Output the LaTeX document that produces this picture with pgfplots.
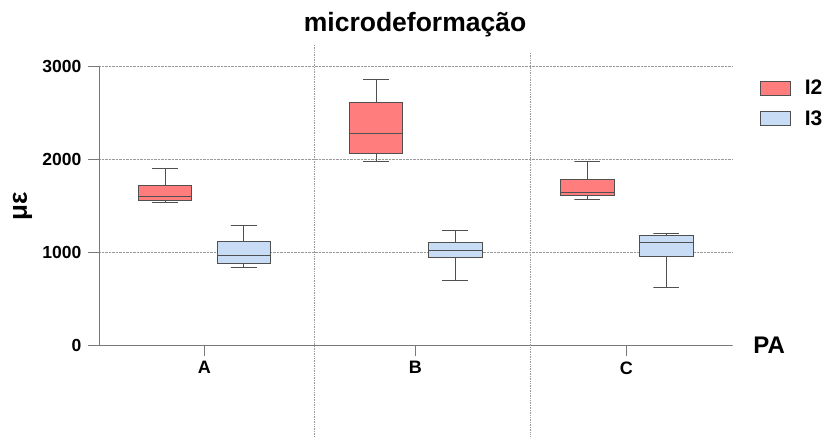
\documentclass[border=0pt]{standalone}
\usepackage{fontspec}
\setmainfont{Liberation Sans}
\usepackage{pgfplots}
\pgfplotsset{compat=1.18}
\definecolor{myred}{RGB}{255,125,125}
\definecolor{myblue}{RGB}{200,220,246}
\definecolor{edge}{RGB}{80,80,80}
\definecolor{axgray}{RGB}{120,120,120}
\begin{document}
\begin{tikzpicture}
\begin{axis}[
  scale only axis,
  width=633pt, height=279pt,
  xmin=-0.5, xmax=2.5, ymin=0, ymax=3000,
  clip=false,
  axis x line=bottom, axis y line=left,
  axis line style={-, axgray, line width=0.8pt},
  tick align=outside, tick pos=left,
  major tick length=11pt,
  tick style={axgray, line width=0.8pt},
  xtick={0,1,2}, xticklabels={A,B,C},
  ytick={0,1000,2000,3000},
  yticklabels={0,1000,2000,3000},
  xticklabel style={font=\bfseries\fontsize{18}{18}\selectfont, yshift=-2pt},
  yticklabel style={font=\bfseries\fontsize{17.5}{17.5}\selectfont, xshift=-3pt},
  ymajorgrids,
  major grid style={densely dotted, gray!80, line width=0.7pt},
  seg/.style={draw=edge, line width=0.9pt, forget plot, mark=none},
  legend style={at={(1.0443,0.957)}, anchor=north west, draw=none, fill=none,
    font=\bfseries\fontsize{21}{21}\selectfont, row sep=10pt, inner sep=0pt},
  legend cell align=left,
]
% separators
\addplot[densely dotted, gray!80, line width=0.7pt, forget plot] coordinates {(0.519,3226) (0.519,-989)};
\addplot[densely dotted, gray!80, line width=0.7pt, forget plot] coordinates {(1.546,3140) (1.546,-989)};
% Red A
\addplot[seg, fill=myred] coordinates {(-0.314,1556) (-0.060,1556) (-0.060,1720) (-0.314,1720)} -- cycle;
\addplot[seg] coordinates {(-0.314,1602) (-0.060,1602)};
\addplot[seg] coordinates {(-0.187,1720) (-0.187,1900) (-0.2485,1900) (-0.1255,1900)};
\addplot[seg] coordinates {(-0.187,1556) (-0.187,1534) (-0.2485,1534) (-0.1255,1534)};
% Blue A
\addplot[seg, fill=myblue] coordinates {(0.060,882) (0.314,882) (0.314,1111) (0.060,1111)} -- cycle;
\addplot[seg] coordinates {(0.060,960) (0.314,960)};
\addplot[seg] coordinates {(0.187,1111) (0.187,1283) (0.1255,1283) (0.2485,1283)};
\addplot[seg] coordinates {(0.187,882) (0.187,839) (0.1255,839) (0.2485,839)};
% Red B
\addplot[seg, fill=myred] coordinates {(0.686,2061) (0.940,2061) (0.940,2606) (0.686,2606)} -- cycle;
\addplot[seg] coordinates {(0.686,2280) (0.940,2280)};
\addplot[seg] coordinates {(0.813,2606) (0.813,2860) (0.7515,2860) (0.8745,2860)};
\addplot[seg] coordinates {(0.813,2061) (0.813,1975) (0.7515,1975) (0.8745,1975)};
% Blue B
\addplot[seg, fill=myblue] coordinates {(1.061,939) (1.315,939) (1.315,1100) (1.061,1100)} -- cycle;
\addplot[seg] coordinates {(1.061,1021) (1.315,1021)};
\addplot[seg] coordinates {(1.188,1100) (1.188,1233) (1.1265,1233) (1.2495,1233)};
\addplot[seg] coordinates {(1.188,939) (1.188,696) (1.1265,696) (1.2495,696)};
% Red C
\addplot[seg, fill=myred] coordinates {(1.687,1606) (1.941,1606) (1.941,1781) (1.687,1781)} -- cycle;
\addplot[seg] coordinates {(1.687,1645) (1.941,1645)};
\addplot[seg] coordinates {(1.814,1781) (1.814,1978) (1.7525,1978) (1.8755,1978)};
\addplot[seg] coordinates {(1.814,1606) (1.814,1570) (1.7525,1570) (1.8755,1570)};
% Blue C
\addplot[seg, fill=myblue] coordinates {(2.062,949) (2.316,949) (2.316,1175) (2.062,1175)} -- cycle;
\addplot[seg] coordinates {(2.062,1100) (2.316,1100)};
\addplot[seg] coordinates {(2.189,1175) (2.189,1204) (2.1275,1204) (2.2505,1204)};
\addplot[seg] coordinates {(2.189,949) (2.189,616) (2.1275,616) (2.2505,616)};
% legend
\addlegendimage{legend image code/.code={\draw[fill=myred, draw=edge, line width=0.9pt] (0pt,-7pt) rectangle (30pt,7pt); \path (42pt,0pt);}}
\addlegendentry{I2}
\addlegendimage{legend image code/.code={\draw[fill=myblue, draw=edge, line width=0.9pt] (0pt,-7pt) rectangle (30pt,7pt); \path (42pt,0pt);}}
\addlegendentry{I3}
% texts
\node[font=\bfseries\fontsize{26.5}{26.5}\selectfont] at (axis cs:0.998,3441) {microdeformação};
\node[font=\bfseries\fontsize{24}{24}\selectfont, anchor=west] at (axis cs:2.585,0) {PA};
\node[font=\bfseries\fontsize{26}{26}\selectfont, rotate=90, inner sep=0pt] at (axis cs:-0.8626,1495) {με};
% page extent
\path (axis cs:-0.969,3710) rectangle (axis cs:2.955,-989);
\end{axis}
\end{tikzpicture}
\end{document}
